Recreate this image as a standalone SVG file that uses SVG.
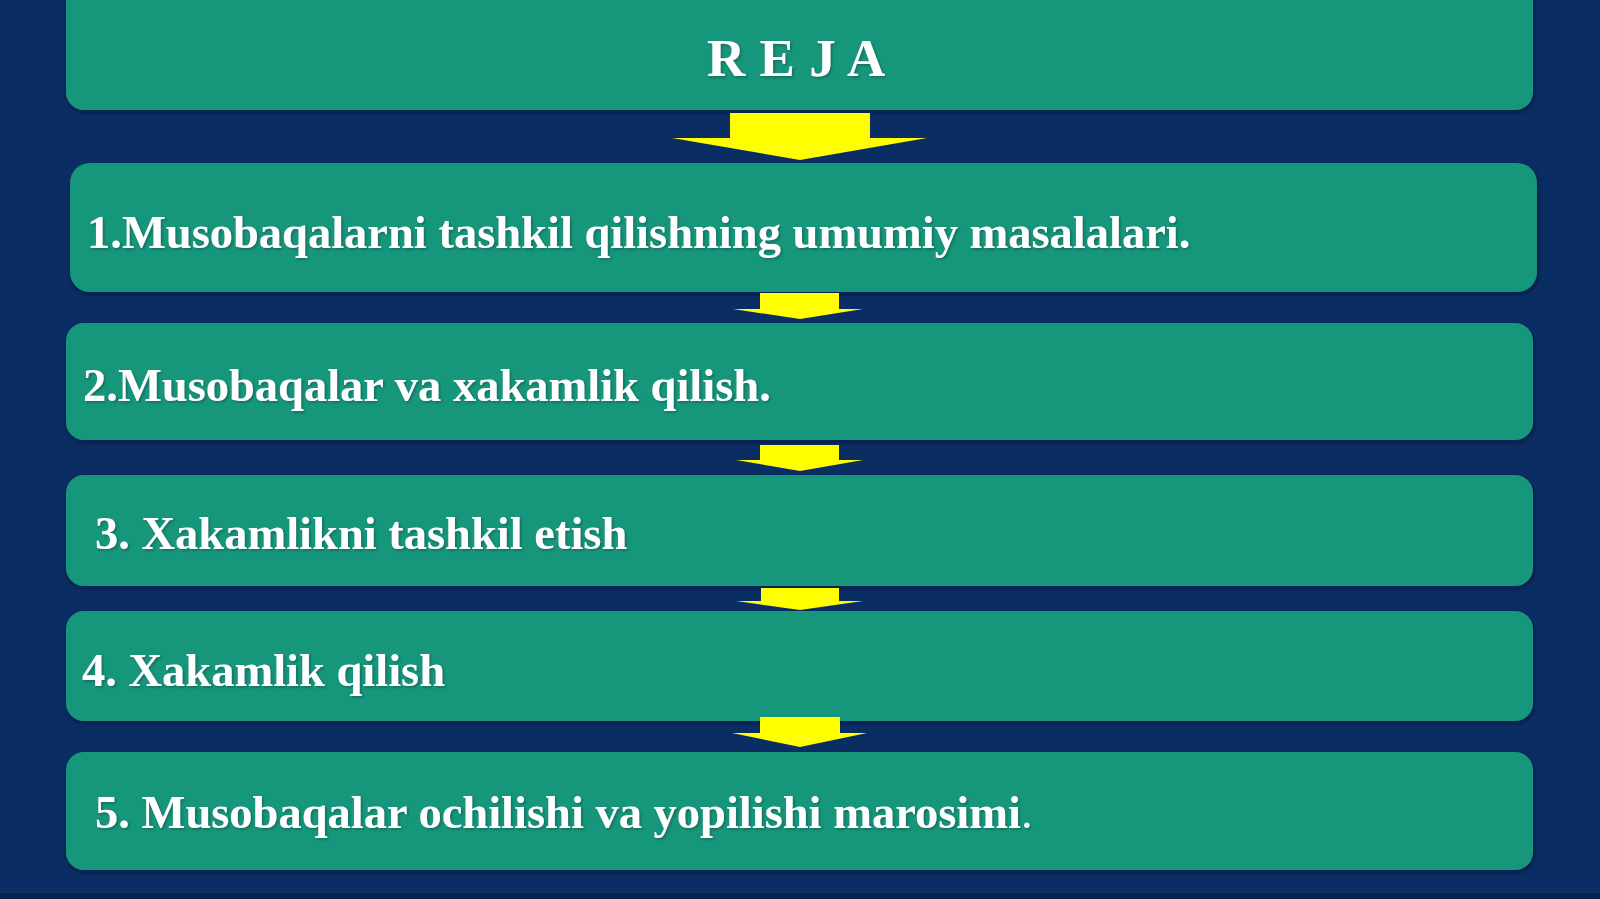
<svg xmlns="http://www.w3.org/2000/svg" width="1600" height="899" viewBox="0 0 1600 899">
  <defs>
    <style>
      .box { fill: #19977b; }
      .lbl { font-family: "Liberation Serif", "Times New Roman", serif; font-weight: bold; fill: #ffffff; font-size: 46.5px; }
      .title { font-family: "Liberation Serif", "Times New Roman", serif; font-weight: bold; fill: #ffffff; font-size: 53px; }
      .arrow { fill: #ffff00; }
    </style>
    <filter id="bs" x="-5%" y="-20%" width="110%" height="140%">
      <feDropShadow dx="1" dy="2" stdDeviation="2" flood-color="#04183a" flood-opacity="0.7"/>
    </filter>
    <filter id="ts" x="-5%" y="-30%" width="110%" height="160%">
      <feDropShadow dx="1.5" dy="1.5" stdDeviation="1" flood-color="#0b3a3a" flood-opacity="0.5"/>
    </filter>
  </defs>
  <rect x="0" y="0" width="1600" height="899" fill="#0a2e63"/>
  <rect x="0" y="893" width="1600" height="6" fill="#07224b"/>

  <g id="node-title">
    <rect class="box" x="66" y="-30" width="1467" height="140" rx="18" filter="url(#bs)"/>
    <text class="title" x="707" y="76" filter="url(#ts)" letter-spacing="0.5">R E J A</text>
  </g>
  <g id="node-1">
    <rect class="box" x="70" y="163" width="1467" height="129" rx="20" filter="url(#bs)"/>
    <text class="lbl" x="87" y="248" filter="url(#ts)">1.Musobaqalarni tashkil qilishning umumiy masalalari.</text>
  </g>
  <g id="node-2">
    <rect class="box" x="66" y="323" width="1467" height="117" rx="18" filter="url(#bs)"/>
    <text class="lbl" x="83" y="401" filter="url(#ts)">2.Musobaqalar va xakamlik qilish.</text>
  </g>
  <g id="node-3">
    <rect class="box" x="66" y="475" width="1467" height="111" rx="18" filter="url(#bs)"/>
    <text class="lbl" x="95" y="549" filter="url(#ts)">3. Xakamlikni tashkil etish</text>
  </g>
  <g id="node-4">
    <rect class="box" x="66" y="611" width="1467" height="110" rx="18" filter="url(#bs)"/>
    <text class="lbl" x="82" y="686" filter="url(#ts)">4. Xakamlik qilish</text>
  </g>
  <g id="node-5">
    <rect class="box" x="66" y="752" width="1467" height="118" rx="18" filter="url(#bs)"/>
    <text class="lbl" x="95" y="828" filter="url(#ts)">5. Musobaqalar ochilishi va yopilishi marosimi<tspan font-weight="normal" fill="#e8f4f4">.</tspan></text>
  </g>

  <g id="connectors">
    <polygon class="arrow" points="730,113 870,113 870,138 927,138 800,160 672,138 730,138"/>
    <polygon class="arrow" points="760,293 839,293 839,309 863,309 800,319 733,309 760,309"/>
    <polygon class="arrow" points="760,445 839,445 839,460 863,460 800,471 736,460 760,460"/>
    <polygon class="arrow" points="761,588 839,588 839,601 863,601 800,610 736,601 761,601"/>
    <polygon class="arrow" points="760,717 840,717 840,733 867,733 800,747 732,733 760,733"/>
  </g>
</svg>
